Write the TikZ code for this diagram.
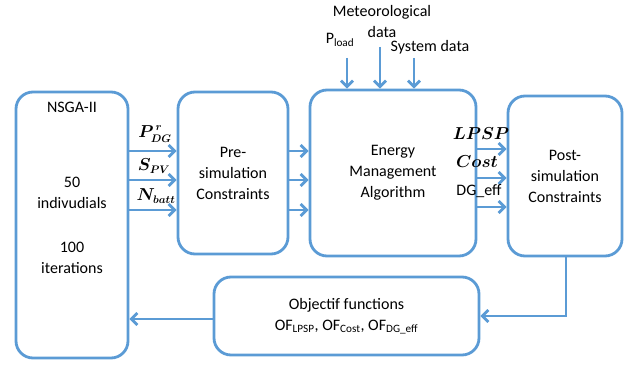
\documentclass[tikz,border=0pt]{standalone}
\usepackage{fontspec}
\usepackage{amsmath}
\setmainfont{Carlito}
\usetikzlibrary{arrows.meta}
\definecolor{bl}{HTML}{5B9BD5}
\begin{document}
\begin{tikzpicture}[x=1pt,y=-1pt,
  box/.style={draw=bl,line width=2.8pt,rounded corners=17pt,align=center,font=\fontsize{16}{21}\selectfont},
  arr/.style={draw=bl,line width=2.8pt,-{Straight Barb[length=6pt,width=12pt]}},
  lab/.style={font=\fontsize{16}{21}\selectfont,inner sep=0pt}]
\useasboundingbox (0,0) rectangle (626,366);
\node[box,minimum width=112pt,minimum height=266pt] (ns) at (72,225) {};
\node[lab,align=center] (nst) at (72,107) {NSGA-II};
\node[lab,align=center] (n50) at (72,193) {50\\indivudials};
\node[lab,align=center] (n100) at (72,258) {100\\iterations};
\node[box,minimum width=110pt,minimum height=162pt] (pre) at (233,173) {Pre-\\simulation\\Constraints};
\node[box,minimum width=166pt,minimum height=166pt] (ema) at (393,173) {Energy\\Management\\Algorithm};
\node[box,minimum width=114pt,minimum height=160pt] (post) at (565,176) {Post-\\simulation\\Constraints};
\node[box,minimum width=265pt,minimum height=78pt] (of) at (346.5,316) {Objectif functions\\OF$_{\text{LPSP}}$, OF$_{\text{Cost}}$, OF$_{\text{DG\_eff}}$};
% inputs NSGA -> pre
\foreach \y/\n in {151/a,180/b,210/c}{
  \coordinate (s\n) at (ns.east |- 0,\y);
  \coordinate (t\n) at (pre.west |- 0,\y);
  \draw[arr] (s\n) -- (t\n);
  \coordinate (u\n) at (pre.east |- 0,\y);
  \coordinate (v\n) at (ema.west |- 0,\y);
  \draw[arr] (u\n) -- (v\n);
}
\foreach \y/\n in {149/a,178/b,207/c}{
  \coordinate (w\n) at (ema.east |- 0,\y);
  \coordinate (z\n) at (post.west |- 0,\y);
  \draw[arr] (w\n) -- (z\n);
}
\node[lab] (l1) at (155,134) {$\boldsymbol{P^{\,r}_{DG}}$};
\node[lab] (l2) at (154,166) {$\boldsymbol{S_{PV}}$};
\node[lab] (l3) at (156,196) {$\boldsymbol{N_{batt}}$};
\node[lab] (l4) at (481,134) {$\boldsymbol{LPSP}$};
\node[lab] (l5) at (477,162) {$\boldsymbol{Cost}$};
\node[lab] (l6) at (479,191) {DG\_eff};
% top inputs
\node[lab] (pl) at (340,40) {P$_{\text{load}}$};
\node[lab,align=center] (met) at (382,22) {Meteorological\\data};
\node[lab] (sys) at (430,47) {System data};
\coordinate (p1) at (347,58);
\coordinate (p2) at (380,47);
\coordinate (p3) at (414,58);
\draw[arr] (p1) -- (p1 |- ema.north);
\draw[arr] (p2) -- (p2 |- ema.north);
\draw[arr] (p3) -- (p3 |- ema.north);
% feedback
\coordinate (q1) at (post.south -| 566,0);
\draw[arr] (q1) -- (566,316) -- (of.east);
\draw[arr] (of.west |- 0,319) -- (ns.east |- 0,319);
\end{tikzpicture}
\end{document}
